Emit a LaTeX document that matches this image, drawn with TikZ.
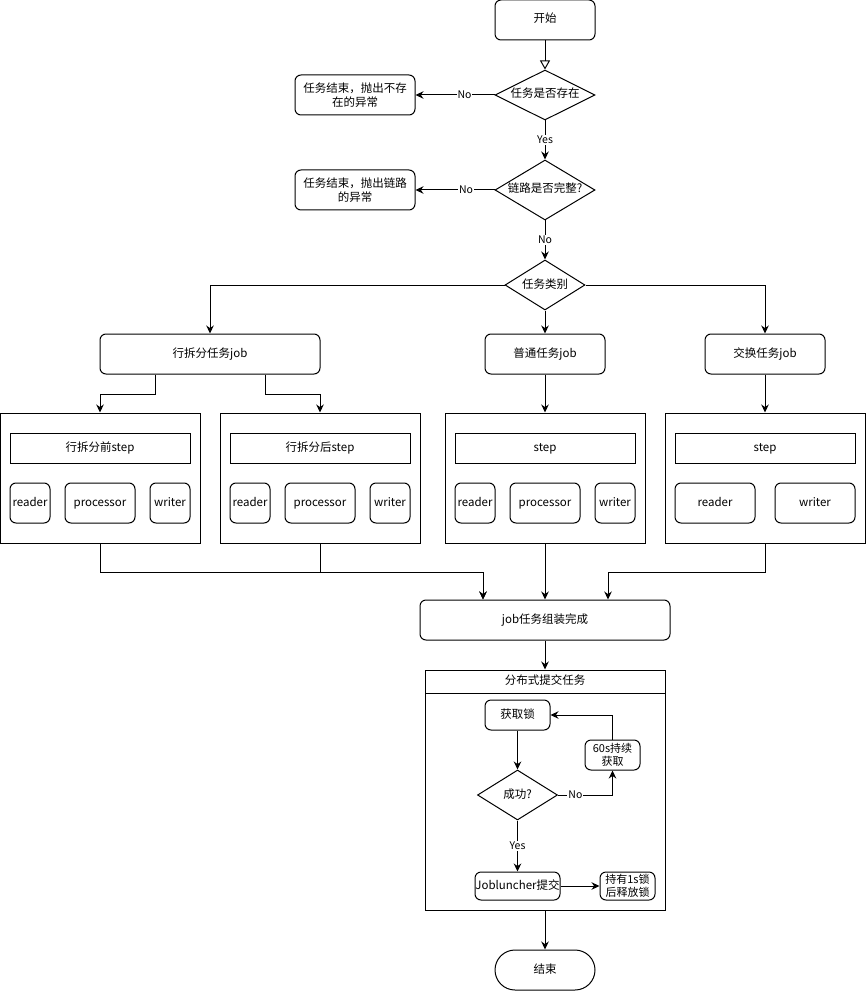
\documentclass[tikz,border=0pt]{standalone}
\usepackage{fontspec}
\setmainfont{Noto Sans CJK SC}
\usetikzlibrary{shapes.geometric,arrows.meta}
\begin{document}
\begin{tikzpicture}[x=1pt,y=-1pt,
  font=\fontsize{11.5}{14}\selectfont,
  line width=1pt,
  base/.style={draw, inner sep=0pt, align=center},
  one/.style={text height=8.5pt, text depth=2.5pt},
  rbox/.style={base, rounded corners=6pt},
  sbox/.style={base},
  dia/.style={draw, diamond, inner sep=0pt},
  arr/.style={-{Stealth[length=8pt,width=7.5pt]}},
  lbl/.style={fill=white, inner sep=1pt, font=\fontsize{10.5}{12}\selectfont}
]
\useasboundingbox (0,0) rectangle (866,992);

% top chain
\node[rbox, one, minimum width=100pt, minimum height=40pt] (start) at (545,20) {开始};
\node[dia, minimum width=100pt, minimum height=50pt] (d1) at (545,95) {};
\node[one] (d1t) at (d1) {任务是否存在};
\node[rbox, minimum width=120pt, minimum height=40pt] (e1) at (355,95) {任务结束，抛出不存\\在的异常};
\node[dia, minimum width=100pt, minimum height=60pt] (d2) at (545,190) {};
\node[one] (d2t) at (d2) {链路是否完整?};
\node[rbox, minimum width=120pt, minimum height=40pt] (e2) at (355,190) {任务结束，抛出链路\\的异常};
\node[dia, minimum width=80pt, minimum height=50pt] (d3) at (545,285) {};
\node[one] (d3t) at (d3) {任务类别};

% jobs
\node[rbox, one, minimum width=220pt, minimum height=40pt] (j1) at (210,354) {行拆分任务job};
\node[rbox, one, minimum width=120pt, minimum height=40pt] (j2) at (545,354) {普通任务job};
\node[rbox, one, minimum width=120pt, minimum height=40pt] (j3) at (765,354) {交换任务job};

% step containers
\node[sbox, minimum width=200pt, minimum height=130pt] (c1) at (100,478) {};
\node[sbox, minimum width=200pt, minimum height=130pt] (c2) at (320,478) {};
\node[sbox, minimum width=200pt, minimum height=130pt] (c3) at (545,478) {};
\node[sbox, minimum width=200pt, minimum height=130pt] (c4) at (765,478) {};

\node[sbox, one, minimum width=180pt, minimum height=30pt] (s1) at (100,448) {行拆分前step};
\node[rbox, one, minimum width=40pt, minimum height=40pt] (r1) at (30,503) {reader};
\node[rbox, one, minimum width=70pt, minimum height=40pt] (p1) at (100,503) {processor};
\node[rbox, one, minimum width=40pt, minimum height=40pt] (w1) at (170,503) {writer};

\node[sbox, one, minimum width=180pt, minimum height=30pt] (s2) at (320,448) {行拆分后step};
\node[rbox, one, minimum width=40pt, minimum height=40pt] (r2) at (250,503) {reader};
\node[rbox, one, minimum width=70pt, minimum height=40pt] (p2) at (320,503) {processor};
\node[rbox, one, minimum width=40pt, minimum height=40pt] (w2) at (390,503) {writer};

\node[sbox, one, minimum width=180pt, minimum height=30pt] (s3) at (545,448) {step};
\node[rbox, one, minimum width=40pt, minimum height=40pt] (r3) at (475,503) {reader};
\node[rbox, one, minimum width=70pt, minimum height=40pt] (p3) at (545,503) {processor};
\node[rbox, one, minimum width=40pt, minimum height=40pt] (w3) at (615,503) {writer};

\node[sbox, one, minimum width=180pt, minimum height=30pt] (s4) at (765,448) {step};
\node[rbox, one, minimum width=80pt, minimum height=40pt] (r4) at (715,503) {reader};
\node[rbox, one, minimum width=80pt, minimum height=40pt] (w4) at (815,503) {writer};

% assemble
\node[rbox, one, minimum width=250pt, minimum height=40pt] (jd) at (545,620) {job任务组装完成};

% distributed container
\node[sbox, minimum width=240pt, minimum height=240pt] (dist) at (545,790) {};
\coordinate (hl) at (425,693);
\coordinate (hr) at (665,693);
\draw (hl) -- (hr);
\node[one] (distt) at (545,681.5) {分布式提交任务};

\node[rbox, one, minimum width=65pt, minimum height=30pt] (lock) at (517.5,715) {获取锁};
\node[dia, minimum width=80pt, minimum height=50pt] (ok) at (517.5,795) {};
\node[one] (okt) at (ok) {成功?};
\node[rbox, minimum width=55pt, minimum height=30pt, font=\fontsize{11}{13}\selectfont] (retry) at (612.5,755) {60s持续\\获取};
\node[rbox, one, minimum width=85pt, minimum height=28pt] (sub) at (517.5,886) {Jobluncher提交};
\node[rbox, minimum width=55pt, minimum height=28pt, font=\fontsize{11}{13}\selectfont] (hold) at (627.5,886) {持有1s锁\\后释放锁};

\node[draw, one, rounded corners=20pt, minimum width=100pt, minimum height=40pt, inner sep=0pt] (end) at (545,970) {结束};

% connectors
\draw[-{Triangle[open,length=9pt,width=10pt]}] (start) -- (d1);
\draw[arr] (d1.west) -- node[lbl, pos=0.38]{No} (e1.east);
\draw[arr] (d1.south) -- node[lbl]{Yes} (d2.north);
\draw[arr] (d2.west) -- node[lbl, pos=0.36]{No} (e2.east);
\draw[arr] (d2.south) -- node[lbl]{No} (d3.north);
\draw[arr] (d3.west) -| (j1.north);
\draw[arr] (d3.south) -- (j2.north);
\draw[arr] (d3.east) -| (j3.north);

\draw[arr] ([xshift=-55pt]j1.south) -- ++(0,20) -| (c1.north);
\draw[arr] ([xshift=55pt]j1.south) -- ++(0,20) -| (c2.north);
\draw[arr] (j2.south) -- (c3.north);
\draw[arr] (j3.south) -- (c4.north);

\draw[arr] (c1.south) -- ++(0,29) -| ([xshift=-62pt]jd.north);
\draw[arr] (c2.south) -- ++(0,29) -| ([xshift=-62pt]jd.north);
\draw[arr] (c3.south) -- (jd.north);
\draw[arr] (c4.south) -- ++(0,29) -| ([xshift=63pt]jd.north);

\draw[arr] (jd.south) -- (dist.north);
\draw[arr] (lock.south) -- (ok.north);
\draw[arr] (ok.east) -| node[lbl, pos=0.16]{No} (retry.south);
\draw[arr] (retry.north) |- (lock.east);
\draw[arr] (ok.south) -- node[lbl]{Yes} (sub.north);
\draw[arr] (sub.east) -- (hold.west);
\draw[arr] (dist.south) -- (end.north);
\end{tikzpicture}
\end{document}
